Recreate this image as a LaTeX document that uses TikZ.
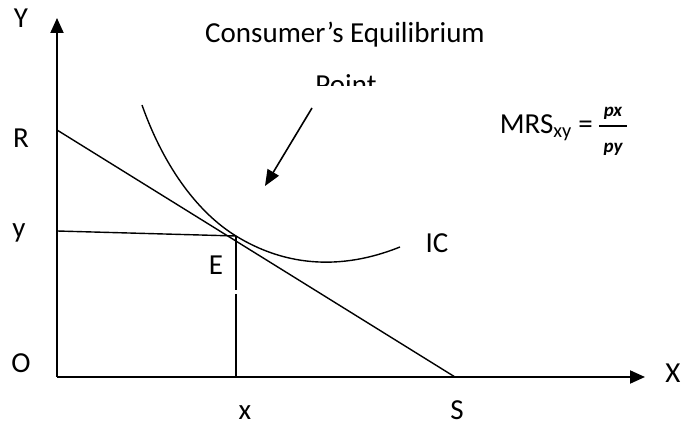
\documentclass[tikz,border=0pt]{standalone}
\usepackage{fontspec}
\setmainfont{Carlito}
\usetikzlibrary{arrows.meta}
\begin{document}
\begin{tikzpicture}[x=1pt,y=-1pt,
  lbl/.style={anchor=base,inner sep=0pt,font=\fontsize{29}{34}\selectfont},
  frac/.style={anchor=center,inner sep=0pt,font=\fontsize{19}{19}\selectfont\bfseries\itshape},
  axis/.style={line width=2pt,-{Triangle[length=15pt,width=13pt]}},
  thin/.style={line width=1.4pt},
  pointer/.style={line width=1.6pt,-{Triangle[length=16pt,width=13pt]}}]
\useasboundingbox (0,0) rectangle (681,427);
% key points
\coordinate (O) at (57,377);
\coordinate (Ytip) at (57,18);
\coordinate (Xtip) at (645,377);
\coordinate (R) at (57,130);
\coordinate (S) at (455,377);
\coordinate (yp) at (57,231);
\coordinate (E) at (236,236);
\coordinate (xg1) at (236,290);
\coordinate (xg2) at (236,294);
\coordinate (xp) at (236,377);
\coordinate (ps) at (312,108);
\coordinate (pe) at (265,186);
% axes
\draw[axis] (O) -- (Ytip);
\draw[axis] (O) -- (Xtip);
% budget line
\draw[thin] (R) -- (S);
% projections
\draw[thin] (yp) -- (E);
\draw[thin] (E) -- (xg1);
\draw[thin] (xg2) -- (xp);
% indifference curve
\draw[thin] (142,105) .. controls (165,170) and (200,214) .. (E)
  .. controls (275,260) and (330,275) .. (400,247);
% pointer arrow
\draw[pointer] (ps) -- (pe);
% labels
\node[lbl] (lY) at (21,28) {Y};
\node[lbl] (lR) at (21,148) {R};
\node[lbl] (ly) at (19,238) {y};
\node[lbl] (lO) at (21,373) {O};
\node[lbl] (lX) at (673,383) {X};
\node[lbl] (lx) at (245,420) {x};
\node[lbl] (lS) at (457,420) {S};
\node[lbl] (lE) at (216,275) {E};
\node[lbl] (lIC) at (437,253) {IC};
\node[lbl] (title) at (345,43) {Consumer’s Equilibrium};
\begin{scope}
\clip (250,60) rectangle (450,86);
\node[lbl] (point) at (346,95) {Point};
\end{scope}
\node[lbl,anchor=base east] (mrs) at (593,134) {MRS\textsubscript{xy} =};
\coordinate (fb1) at (599,126);
\coordinate (fb2) at (627,126);
\draw[line width=1.8pt] (fb1) -- (fb2);
\node[frac] (num) at (613,113) {px};
\node[frac] (den) at (613,149) {py};
\end{tikzpicture}
\end{document}
